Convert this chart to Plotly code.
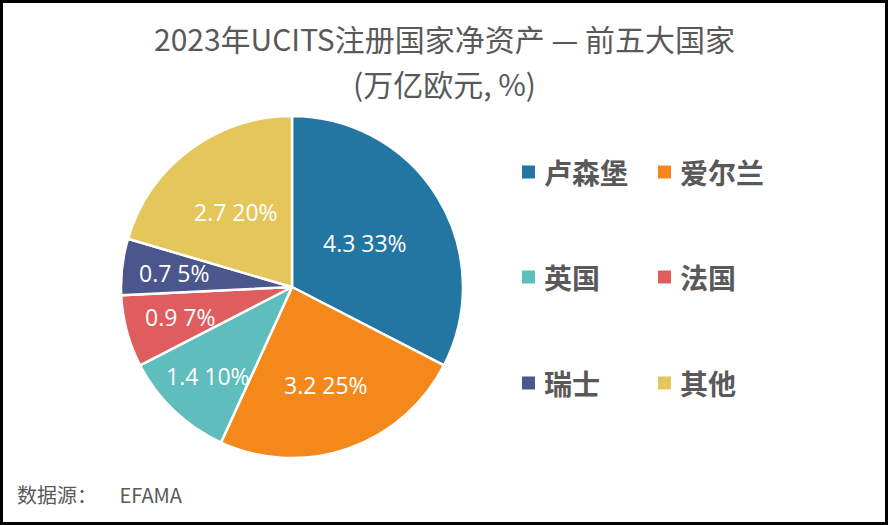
import math
import plotly.graph_objects as go

labels = ["卢森堡", "爱尔兰", "英国", "法国", "瑞士", "其他"]
values = [4.3, 3.2, 1.4, 0.9, 0.7, 2.7]
pct_labels = ["33%", "25%", "10%", "7%", "5%", "20%"]
colors = ["#2376A1", "#F5881A", "#5FBDBE", "#E05D5F", "#4B578C", "#E4C65A"]

title_line1 = "2023年UCITS注册国家净资产 — 前五大国家"
title_line2 = "(万亿欧元, %)"
source_text = "数据源：" + "\u00a0" * 5 + "EFAMA"

W, H = 888, 525
GRAY = "#595959"
CJK = "Noto Sans CJK SC"
LAT = "Open Sans, Noto Sans CJK SC"

# pie geometry (layout)
CX, CY, R = 292, 287, 170
# radial placement of data labels as fraction of radius (layout, like Excel "best fit")
label_radius = [0.5, 0.61, 0.72, 0.68, 0.70, 0.55]

texts = [f"{v} {p}" for v, p in zip(values, pct_labels)]

fig = go.Figure(go.Pie(
    labels=labels,
    values=values,
    textinfo="none",
    marker=dict(colors=colors, line=dict(color="white", width=2.5)),
    sort=False,
    direction="clockwise",
    rotation=0,
    domain=dict(x=[(CX - R - 1) / W, (CX + R + 1) / W],
                y=[(H - CY - R - 1) / H, (H - CY + R + 1) / H]),
    showlegend=False,
    hoverinfo="label+value+percent",
))

annotations = [
    dict(text=title_line1, x=444 / W, y=1 - 38 / H, xref="paper", yref="paper",
         showarrow=False, xanchor="center", yanchor="middle",
         font=dict(size=30, color=GRAY, family=CJK)),
    dict(text=title_line2, x=444 / W, y=1 - 83 / H, xref="paper", yref="paper",
         showarrow=False, xanchor="center", yanchor="middle",
         font=dict(size=30, color=GRAY, family=CJK)),
    dict(text=source_text, x=15 / W, y=1 - 494 / H, xref="paper", yref="paper",
         showarrow=False, xanchor="left", yanchor="middle",
         font=dict(size=20, color=GRAY, family=CJK)),
]

# data labels placed along each slice's mid-angle
total = sum(values)
cum = 0.0
for v, t, rf in zip(values, texts, label_radius):
    mid = (cum + v / 2) / total * 2 * math.pi
    cum += v
    px = CX + math.sin(mid) * R * rf
    py = CY - math.cos(mid) * R * rf
    annotations.append(dict(text=t, x=px / W, y=1 - py / H, xref="paper", yref="paper",
                            showarrow=False, xanchor="center", yanchor="middle",
                            font=dict(size=23, color="white", family=LAT)))

shapes = [dict(type="rect", xref="paper", yref="paper", x0=1.5 / W, x1=1 - 1.5 / W,
               y0=1.5 / H, y1=1 - 1.5 / H, line=dict(color="black", width=3))]

# manual 2-column legend
col_x = [522, 658]
row_y = [172, 277, 383]
sq = 13
for i, (lab, col) in enumerate(zip(labels, colors)):
    cx = col_x[i % 2]
    cy = row_y[i // 2]
    shapes.append(dict(type="rect", xref="paper", yref="paper",
                       x0=cx / W, x1=(cx + sq) / W,
                       y0=1 - (cy + sq / 2) / H, y1=1 - (cy - sq / 2) / H,
                       fillcolor=col, line=dict(width=0)))
    annotations.append(dict(text=f"<b>{lab}</b>", x=(cx + 20) / W, y=1 - cy / H,
                            xref="paper", yref="paper", showarrow=False,
                            xanchor="left", yanchor="middle",
                            font=dict(size=28, color=GRAY, family=CJK)))

fig.update_layout(
    width=W, height=H,
    margin=dict(l=0, r=0, t=0, b=0),
    paper_bgcolor="white", plot_bgcolor="white",
    annotations=annotations, shapes=shapes,
)

fig.write_html("out.html")
